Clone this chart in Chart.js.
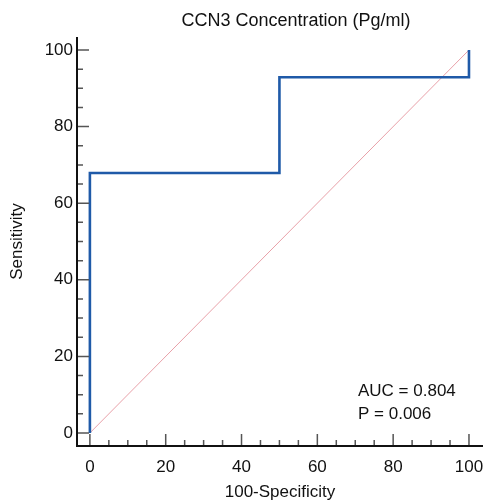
<!DOCTYPE html>
<html>
<head>
<meta charset="utf-8">
<script src="https://cdn.jsdelivr.net/npm/chart.js@4.4.0/dist/chart.umd.min.js"></script>
<style>
  html, body { margin: 0; padding: 0; background: #fff; }
  #wrap { width: 483px; height: 503px; }
</style>
</head>
<body>
<div id="wrap"><canvas id="roc"></canvas></div>
<script>
// ROC curve points (100-Specificity, Sensitivity)
const rocX = [0, 0, 50, 50, 100, 100];
const rocY = [0, 67.9, 67.9, 92.9, 92.9, 100];
const diagX = [0, 100];
const diagY = [0, 100];
const xTicks = [0, 20, 40, 60, 80, 100];
const yTicks = [0, 20, 40, 60, 80, 100];
const xMinor = [5, 10, 15, 25, 30, 35, 45, 50, 55, 65, 70, 75, 85, 90, 95];
const yMinor = [5, 10, 15, 25, 30, 35, 45, 50, 55, 65, 70, 75, 85, 90, 95];
const chartTitle = 'CCN3 Concentration (Pg/ml)';
const statLines = ['AUC = 0.804', 'P = 0.006'];

const FONT = 'Liberation Sans, Arial, sans-serif';
const FS = 17;

// inward tick marks, axis lines, title and stats text
const decorPlugin = {
    id: 'decor',
    afterDraw(chart) {
        const ctx = chart.ctx;
        const xs = chart.scales.x, ys = chart.scales.y;
        const area = chart.chartArea;
        ctx.save();
        ctx.strokeStyle = '#555';
        ctx.lineWidth = 1.5;
        ctx.beginPath();
        xTicks.forEach(v => { const p = xs.getPixelForValue(v); ctx.moveTo(p, area.bottom); ctx.lineTo(p, area.bottom - 12); });
        xMinor.forEach(v => { const p = xs.getPixelForValue(v); ctx.moveTo(p, area.bottom); ctx.lineTo(p, area.bottom - 6); });
        yTicks.forEach(v => { const p = ys.getPixelForValue(v); ctx.moveTo(area.left, p); ctx.lineTo(area.left + 12, p); });
        yMinor.forEach(v => { const p = ys.getPixelForValue(v); ctx.moveTo(area.left, p); ctx.lineTo(area.left + 6, p); });
        ctx.stroke();

        // axis lines
        ctx.strokeStyle = '#111';
        ctx.lineWidth = 2;
        ctx.beginPath();
        ctx.moveTo(area.left, area.top);
        ctx.lineTo(area.left, area.bottom);
        ctx.lineTo(area.right, area.bottom);
        ctx.stroke();

        ctx.fillStyle = '#111';
        ctx.textBaseline = 'middle';
        ctx.textAlign = 'center';
        ctx.font = '18px ' + FONT;
        ctx.fillText(chartTitle, 296, 21);
        ctx.font = FS + 'px ' + FONT;
        ctx.textAlign = 'left';
        ctx.fillText(statLines[0], 358, 391);
        ctx.fillText(statLines[1], 358, 414);
        ctx.restore();
    }
};

new Chart(document.getElementById('roc'), {
    type: 'line',
    data: {
        datasets: [
            {
                data: rocX.map((x, i) => ({ x: x, y: rocY[i] })),
                borderColor: '#1f5aa8',
                borderWidth: 2.6,
                pointRadius: 0,
                fill: false,
                tension: 0,
                order: 1
            },
            {
                data: diagX.map((x, i) => ({ x: x, y: diagY[i] })),
                borderColor: '#e8a0a8',
                borderWidth: 1,
                pointRadius: 0,
                fill: false,
                order: 2
            }
        ]
    },
    options: {
        responsive: true,
        maintainAspectRatio: false,
        animation: false,
        layout: { padding: { left: 0, right: 0, top: 37, bottom: 0 } },
        plugins: {
            legend: { display: false },
            tooltip: { enabled: false },
            title: { display: false }
        },
        scales: {
            x: {
                type: 'linear',
                min: -3.4,
                max: 103.7,
                afterBuildTicks: s => { s.ticks = xTicks.map(v => ({ value: v })); },
                afterFit: s => { s.height = 57; s.paddingLeft = 0; s.paddingRight = 0; },
                grid: { display: false, drawTicks: false },
                border: { display: false },
                ticks: { color: '#111', padding: 11, maxRotation: 0, font: { family: FONT, size: FS } },
                title: {
                    display: true,
                    text: '100-Specificity',
                    color: '#111',
                    font: { family: FONT, size: FS },
                    padding: { top: 0, bottom: 0 }
                }
            },
            y: {
                type: 'linear',
                min: -3.4,
                max: 103.4,
                afterBuildTicks: s => { s.ticks = yTicks.map(v => ({ value: v })); },
                afterFit: s => { s.width = 77; s.paddingTop = 0; s.paddingBottom = 0; },
                grid: { display: false, drawTicks: false },
                border: { display: false },
                ticks: { color: '#111', padding: 4, font: { family: FONT, size: FS } },
                title: {
                    display: true,
                    text: 'Sensitivity',
                    color: '#111',
                    font: { family: FONT, size: FS },
                    padding: { top: 7, bottom: 0 }
                }
            }
        }
    },
    plugins: [decorPlugin]
});
</script>
</body>
</html>
